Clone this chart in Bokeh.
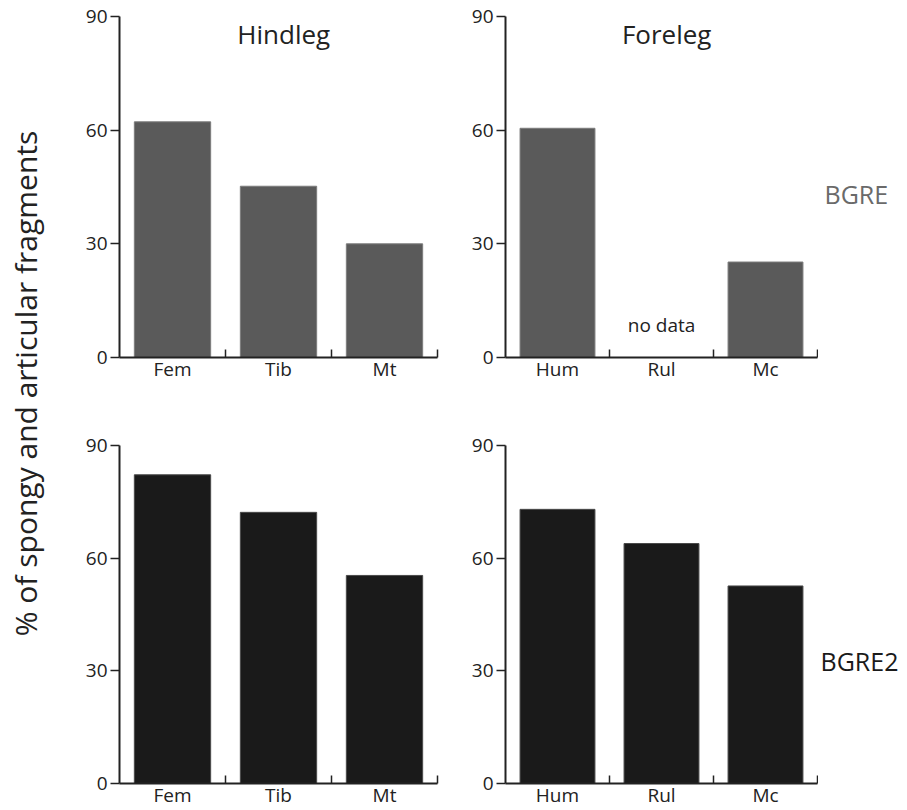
import math
from bokeh.plotting import figure
from bokeh.layouts import row, column
from bokeh.models import Range1d, FixedTicker, Label, ColumnDataSource
from bokeh.embed import file_html
from bokeh.resources import INLINE

# ---- data ----
hind_cats = ["Fem", "Tib", "Mt"]
fore_cats = ["Hum", "Rul", "Mc"]
bgre_hind = [62.2, 45.2, 30.0]
bgre_fore = [60.5, None, 25.2]
bgre2_hind = [82.2, 72.2, 55.4]
bgre2_fore = [73.0, 63.9, 52.6]
y_ticks = [0, 30, 60, 90]
titles = ["Hindleg", "Foreleg"]
site_labels = ["BGRE", "BGRE2"]
y_label = "% of spongy and articular fragments"
missing_text = "no data"

FONT = "Open Sans"
AX = "#222222"


def panel(cats, vals, fill, edge, width, height, mb_left, mb_right, mb_top, mb_bottom,
          title=None):
    p = figure(width=width, height=height, output_backend="svg", toolbar_location=None,
               x_range=Range1d(0, len(cats)), y_range=Range1d(0, 90),
               min_border_left=mb_left, min_border_right=mb_right,
               min_border_top=mb_top, min_border_bottom=mb_bottom)
    p.outline_line_color = None
    p.grid.visible = False
    p.background_fill_color = "white"
    p.border_fill_color = "white"

    xs = [i + 0.5 for i, v in enumerate(vals) if v is not None]
    tops = [v for v in vals if v is not None]
    src = ColumnDataSource(dict(x=xs, top=tops))
    p.vbar(x="x", top="top", width=0.72, bottom=0, source=src,
           fill_color=fill, line_color=edge, line_width=1)

    for i, v in enumerate(vals):
        if v is None:
            p.add_layout(Label(x=i + 0.5, y=8.5, text=missing_text, text_align="center",
                               text_baseline="middle", text_font=FONT,
                               text_font_size="19px", text_color=AX))

    # x axis
    xa = p.xaxis[0]
    xa.ticker = FixedTicker(ticks=[i + 0.5 for i in range(len(cats))],
                            minor_ticks=[i + 1 for i in range(len(cats))])
    xa.major_label_overrides = {i + 0.5: c for i, c in enumerate(cats)}
    xa.major_tick_line_color = None
    xa.minor_tick_in = 8
    xa.minor_tick_out = 0
    xa.minor_tick_line_color = AX
    xa.minor_tick_line_width = 1.5
    xa.axis_line_color = AX
    xa.axis_line_width = 2
    xa.major_label_standoff = -8
    xa.major_label_text_font = FONT
    xa.major_label_text_font_size = "19px"
    xa.major_label_text_color = AX

    # y axis
    ya = p.yaxis[0]
    ya.ticker = FixedTicker(ticks=y_ticks)
    ya.minor_tick_line_color = None
    ya.major_tick_in = 0
    ya.major_tick_out = 9
    ya.major_tick_line_color = AX
    ya.major_tick_line_width = 1.5
    ya.axis_line_color = AX
    ya.axis_line_width = 2
    ya.major_label_standoff = 3
    ya.major_label_text_font = FONT
    ya.major_label_text_font_size = "19px"
    ya.major_label_text_color = AX

    if title:
        p.add_layout(Label(x=1.55, y=85.5, text=title, text_align="center",
                           text_baseline="alphabetic", text_font=FONT,
                           text_font_size="26px", text_color=AX))
    return p


def blank(width, height):
    f = figure(width=width, height=height, output_backend="svg", toolbar_location=None,
               x_range=Range1d(0, width), y_range=Range1d(0, height),
               min_border_left=0, min_border_right=0, min_border_top=0, min_border_bottom=0)
    f.axis.visible = False
    f.grid.visible = False
    f.outline_line_color = None
    return f


TOP_FILL, TOP_EDGE = "#5a5a5a", "#7c7c7c"
BOT_FILL, BOT_EDGE = "#1a1a1a", "#4a4a4a"

tl = panel(hind_cats, bgre_hind, TOP_FILL, TOP_EDGE, 410, 405, 69, 23, 16, 48, title=titles[0])
tr = panel(fore_cats, bgre_fore, TOP_FILL, TOP_EDGE, 358, 405, 45, 1, 16, 48, title=titles[1])
bl = panel(hind_cats, bgre2_hind, BOT_FILL, BOT_EDGE, 410, 405, 69, 23, 40, 25)
br = panel(fore_cats, bgre2_fore, BOT_FILL, BOT_EDGE, 358, 405, 45, 1, 40, 25)

lab = blank(50, 810)
lab.add_layout(Label(x=25, y=810 - 383, text=y_label, angle=math.pi / 2,
                     text_align="center", text_baseline="middle", text_font=FONT,
                     text_font_size="30px", text_color=AX))

side = blank(89, 810)
side.add_layout(Label(x=6, y=810 - 193, text=site_labels[0], text_align="left",
                      text_baseline="middle", text_font=FONT, text_font_size="25px",
                      text_color="#6a6a6a"))
side.add_layout(Label(x=2, y=810 - 660, text=site_labels[1], text_align="left",
                      text_baseline="middle", text_font=FONT, text_font_size="25px",
                      text_color="#1a1a1a"))

layout = row(lab, column(row(tl, tr), row(bl, br)), side)
open("out.html", "w").write(file_html(layout, INLINE))
